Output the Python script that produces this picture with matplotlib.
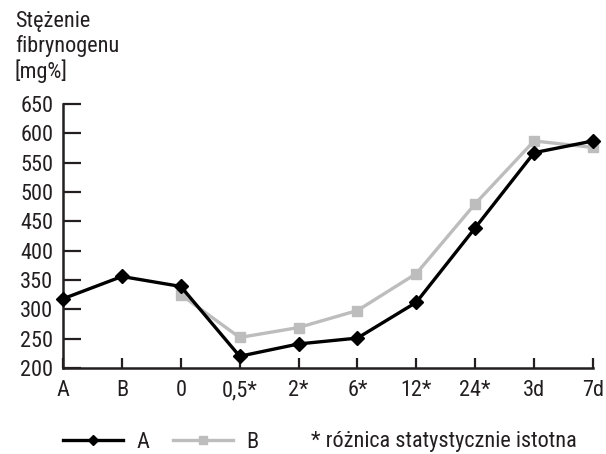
import matplotlib
matplotlib.use("Agg")
import matplotlib.pyplot as plt
from matplotlib import font_manager

# Dane
categories = ["A", "B", "0", "0,5*", "2*", "6*", "12*", "24*", "3d", "7d"]
series_a = [318, 356, 339, 220, 241, 251, 312, 439, 567, 587]
series_b = [None, None, 325, 252, 269, 298, 361, 480, 587, 576]
y_ticks = [200, 250, 300, 350, 400, 450, 500, 550, 600, 650]

# czcionka wąska, jeśli jest
names = {f.name for f in font_manager.fontManager.ttflist}
STRETCH = "normal"
for cand in ("Roboto Condensed", "Liberation Sans Narrow", "Open Sans Condensed"):
    if cand in names:
        FAMILY = [cand, "DejaVu Sans"]
        break
else:
    FAMILY = ["DejaVu Sans"]
    STRETCH = "condensed"
plt.rcParams["font.family"] = FAMILY
plt.rcParams["font.stretch"] = STRETCH

TXT = "#231f20"
GREY = "#bdbdbd"
FS = 16

fig = plt.figure(figsize=(6.06, 4.54), dpi=100)
ax = fig.add_axes([63 / 606, 86 / 454, 530 / 606, 264 / 454])

x = list(range(len(categories)))
xb = [i for i, v in zip(x, series_b) if v is not None]
yb = [v for v in series_b if v is not None]

ax.plot(xb, yb, color=GREY, lw=2.4, marker="s", ms=7.5, mec=GREY, mfc=GREY,
        label="B", zorder=3, clip_on=False)
ax.plot(x, series_a, color="black", lw=2.4, marker="D", ms=7.2, mec="black",
        mfc="black", label="A", zorder=4, clip_on=False)

ax.set_xlim(0, len(categories) - 1)
ax.set_ylim(200, 650)
ax.set_xticks(x)
ax.set_xticklabels(categories)
ax.set_yticks(y_ticks)

for s in ("top", "right"):
    ax.spines[s].set_visible(False)
for s in ("left", "bottom"):
    ax.spines[s].set_linewidth(1.8)
    ax.spines[s].set_color(TXT)

ax.tick_params(axis="y", direction="in", length=13, width=1.6, color=TXT,
               labelsize=FS, labelcolor=TXT, pad=7)
ax.tick_params(axis="x", direction="in", length=7, width=1.6, color=TXT,
               labelsize=FS, labelcolor=TXT, pad=9)

fig.text(15 / 606, 1 - 11 / 454, "Stężenie\nfibrynogenu\n[mg%]", ha="left",
         va="top", fontsize=FS, color=TXT, linespacing=1.15)

# legenda: A, B + przypis
h, l = ax.get_legend_handles_labels()
leg = fig.legend(h[::-1], l[::-1], loc="center left",
                 bbox_to_anchor=(63 / 606, 1 - 442 / 454), ncol=2, frameon=False,
                 fontsize=FS, handlelength=2.7, handletextpad=0.6,
                 columnspacing=1.05, borderpad=0, borderaxespad=0,
                 labelcolor=TXT, markerscale=0.75)
fig.text(311 / 606, 1 - 442 / 454, "* różnica statystycznie istotna",
         ha="left", va="center", fontsize=FS, color=TXT)

fig.savefig("out.png", dpi=100, facecolor="white")
